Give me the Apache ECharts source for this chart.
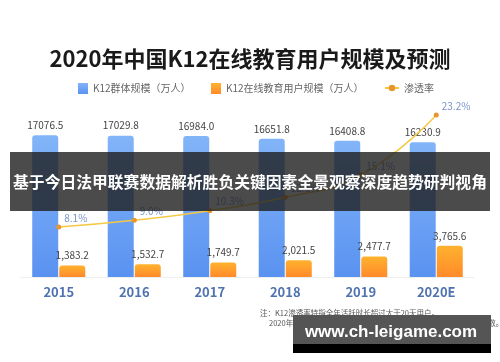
<!DOCTYPE html>
<html><head><meta charset="utf-8">
<script src="https://cdn.jsdelivr.net/npm/echarts@6/dist/echarts.min.js"></script>
<style>html,body{margin:0;padding:0;background:#fff}#c{width:500px;height:362px}</style>
</head><body><div id="c"></div>
<script>
const categories = ['2015','2016','2017','2018','2019','2020E'];
const groupSize = [17076.5,17029.8,16984.0,16651.8,16408.8,16230.9];
const onlineUsers = [1383.2,1532.7,1749.7,2021.5,2477.7,3765.6];
const penetration = [8.1,9.0,10.3,12.1,15.1,23.2];
const seriesNames = ['K12群体规模（万人）','K12在线教育用户规模（万人）','渗透率'];

const F = '"Noto Sans CJK SC","Noto Sans",sans-serif';
const chart = echarts.init(document.getElementById('c'));
function grad(a,b){return new echarts.graphic.LinearGradient(0,0,0,1,[{offset:0,color:a},{offset:1,color:b}]);}
chart.setOption({
  animation:false,
  textStyle:{fontFamily:F},
  title:{text:'2020年中国K12在线教育用户规模及预测',left:'center',top:43,
    textStyle:{fontFamily:F,fontSize:22,fontWeight:'bold',color:'#1a1a1a'}},
  legend:[
    {data:[{name:seriesNames[0],icon:'rect'}],left:73,top:78,itemWidth:10,itemHeight:11,textStyle:{fontSize:10,color:'#666',fontFamily:F}},
    {data:[{name:seriesNames[1],icon:'rect'}],left:206,top:78,itemWidth:10,itemHeight:11,textStyle:{fontSize:10,color:'#666',fontFamily:F}},
    {data:[seriesNames[2]],left:379,top:78,itemWidth:14,itemHeight:8,textStyle:{fontSize:10,color:'#666',fontFamily:F}}
  ],
  grid:{left:21,right:26,top:111,bottom:85},
  xAxis:{type:'category',data:categories,
    axisLine:{lineStyle:{color:'#eeeeee'}},axisTick:{show:false},
    axisLabel:{color:'#4f72b0',fontSize:13,fontWeight:'bold',margin:9,fontFamily:F}},
  yAxis:[
    {type:'value',min:0,max:20000,show:false},
    {type:'value',min:1.36,max:23.74,show:false}
  ],
  series:[
    {name:seriesNames[0],type:'bar',data:groupSize,barWidth:26,barGap:'4%',
      itemStyle:{color:grad('#82b4f8','#5a92f1'),borderRadius:[3,3,0,0]},
      label:{show:true,position:'top',distance:5,fontSize:10,color:'#444',
        formatter:p=>p.value.toFixed(1)}},
    {name:seriesNames[1],type:'bar',data:onlineUsers,barWidth:26,barGap:'4%',
      itemStyle:{color:grad('#ffb22e','#ff8a2a'),borderRadius:[3,3,0,0]},
      label:{show:true,position:'top',distance:5,fontSize:10,color:'#444',
        formatter:p=>p.value.toLocaleString('en-US',{minimumFractionDigits:1,maximumFractionDigits:1})}},
    {name:seriesNames[2],type:'line',yAxisIndex:1,data:penetration,smooth:true,
      symbol:'circle',symbolSize:5,z:5,
      lineStyle:{color:'#f6c945',width:1.5},
      itemStyle:{color:'#e8962b'},
      label:{show:true,position:'right',distance:3,offset:[0,-9],fontSize:10,color:'#7a93cc',
        formatter:p=>p.value.toFixed(1)+'%'}}
  ],
  graphic:[
    {type:'text',left:260,top:309,z:50,style:{text:'注：K12渗透率特指全年活跃时长超过大于20天用户。',fontSize:7.5,fill:'#555',fontFamily:F}},
    {type:'text',left:269,top:319,z:50,style:{text:'2020年已剔除因新冠疫情官方统一组织的非营利性临时线上教学人数。',fontSize:7.5,fill:'#555',fontFamily:F}},
    {type:'rect',shape:{x:10,y:152,width:480,height:59},z:100,style:{fill:'rgba(30,30,30,0.8)'}},
    {type:'text',x:250,y:181.5,z:101,style:{text:'基于今日法甲联赛数据解析胜负关键因素全景观察深度趋势研判视角',
      fontSize:15.8,fontWeight:'bold',fill:'#fff',align:'center',verticalAlign:'middle',fontFamily:F}},
    {type:'rect',shape:{x:293,y:315,width:198,height:29},z:100,style:{fill:'#555555'}},
    {type:'rect',shape:{x:293,y:344,width:198,height:9},z:100,style:{fill:'#000000'}},
    {type:'text',x:391,y:332,z:101,style:{text:'www.ch-leigame.com',fontSize:17,fontWeight:'bold',
      fill:'#fff',align:'center',verticalAlign:'middle',fontFamily:'"Liberation Sans",Arial,sans-serif'}}
  ]
});
</script></body></html>
